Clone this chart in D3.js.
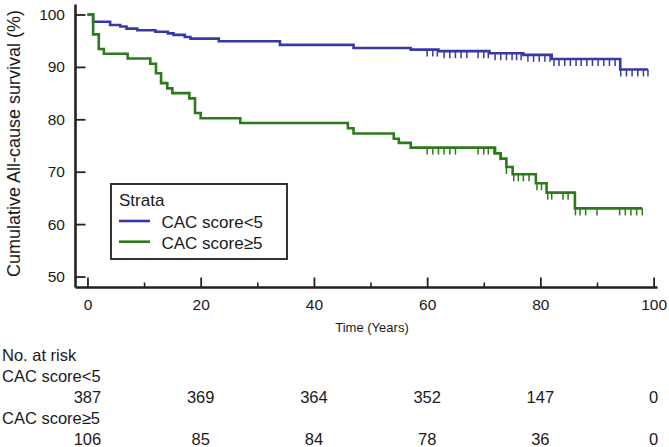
<!DOCTYPE html>
<html>
<head>
<meta charset="utf-8">
<script src="https://cdn.jsdelivr.net/npm/d3@7"></script>
<style>
  html, body { margin: 0; padding: 0; background: #ffffff; }
  svg { display: block; font-family: "Liberation Sans", Arial, sans-serif; }
</style>
</head>
<body>
<svg id="chart" width="669" height="447"></svg>
<script>
// ---------- DATA ----------
const seriesNames = ["CAC score<5", "CAC score\u22655"];

const blueTimes = [0, 1.0, 4.0, 5.8, 6.9, 8.8, 12.0, 14.2, 15.2, 17.2, 18.2, 23.2, 34.0, 47.0, 57.1, 62.0, 71.0, 77.0, 82.0, 94.1, 99.0];
const blueSurv  = [100, 98.6, 98.0, 97.7, 97.3, 97.0, 96.7, 96.4, 96.1, 95.7, 95.4, 94.9, 94.2, 93.6, 93.3, 93.0, 92.6, 92.3, 91.5, 89.5, 89.5];
const blueCensor = [60.0, 61.0, 61.8, 63.0, 64.0, 65.0, 66.0, 67.0, 69.0, 70.0, 70.8, 72.0, 73.0, 74.0, 75.0, 75.8, 76.6, 77.8, 78.8, 79.8, 80.8, 81.7, 82.4, 83.3, 84.3, 85.3, 86.3, 87.2, 88.2, 89.2, 90.2, 91.2, 92.2, 93.2, 94.2, 95.2, 96.2, 97.2, 98.2, 99.0];

const greenTimes = [0, 1.0, 2.0, 2.9, 7.1, 11.1, 12.1, 13.0, 14.1, 15.0, 18.0, 19.0, 20.0, 27.0, 46.0, 47.0, 54.1, 55.0, 57.1, 72.0, 73.0, 74.0, 75.1, 79.2, 81.1, 86.1, 98.0];
const greenSurv  = [100, 96.2, 93.4, 92.5, 91.6, 90.6, 88.8, 86.9, 85.9, 85.0, 84.0, 81.2, 80.2, 79.3, 78.3, 77.3, 76.3, 75.5, 74.6, 73.5, 72.5, 70.9, 69.5, 67.8, 66.0, 63.0, 63.0];
const greenCensor = [60.0, 61.0, 62.0, 63.0, 64.0, 65.0, 69.0, 70.0, 70.8, 71.8, 72.9, 74.0, 75.3, 76.1, 77.0, 78.0, 79.4, 80.2, 81.3, 82.0, 84.0, 84.9, 86.2, 87.0, 88.0, 90.0, 94.0, 95.0, 96.0, 97.0, 98.0];

const xTicks = [0, 20, 40, 60, 80, 100];
const xMinorTicks = [10, 30, 50, 70, 90];
const yTicks = [50, 60, 70, 80, 90, 100];

const riskTimes = [0, 20, 40, 60, 80, 100];
const riskBlue  = [387, 369, 364, 352, 147, 0];
const riskGreen = [106, 85, 84, 78, 36, 0];

// ---------- LAYOUT ----------
const colors = ["#3838a8", "#2c7a1c"];
const textColor = "#1a1a1a";
const axisColor = "#222222";

const svg = d3.select("#chart");
const x = d3.scaleLinear().domain([-2.2, 100.6]).range([75, 657]);
const y = d3.scaleLinear().domain([48, 102]).range([287, 4]);

function stepAt(times, surv, t) {
  let v = surv[0];
  for (let i = 0; i < times.length; i++) { if (times[i] <= t + 1e-9) v = surv[i]; }
  return v;
}

const series = [
  { times: blueTimes, surv: blueSurv, censor: blueCensor, color: colors[0] },
  { times: greenTimes, surv: greenSurv, censor: greenCensor, color: colors[1] }
];

const line = d3.line().x(d => x(d[0])).y(d => y(d[1])).curve(d3.curveStepAfter);

const plot = svg.append("g");
series.forEach(s => {
  const pts = s.times.map((t, i) => [t, s.surv[i]]);
  plot.append("path")
    .attr("d", line(pts))
    .attr("fill", "none")
    .attr("stroke", s.color)
    .attr("stroke-width", 2.6);
  plot.append("g").selectAll("line")
    .data(s.censor)
    .join("line")
    .attr("x1", d => x(d)).attr("x2", d => x(d))
    .attr("y1", d => y(stepAt(s.times, s.surv, d)))
    .attr("y2", d => y(stepAt(s.times, s.surv, d)) + 7)
    .attr("stroke", s.color)
    .attr("stroke-width", 1.5);
});

// ---------- AXES ----------
function styleAxis(g) {
  g.select(".domain").attr("stroke", axisColor).attr("stroke-width", 2.6);
  g.selectAll(".tick line").attr("stroke", axisColor).attr("stroke-width", 1.8);
  g.selectAll(".tick text").attr("fill", textColor).attr("font-size", 15.5)
    .attr("font-family", "'Liberation Sans', Arial, sans-serif");
}

const xAxisG = svg.append("g").attr("transform", "translate(0,287)")
  .call(d3.axisBottom(x).tickValues(xTicks).tickSizeInner(-9.5).tickSizeOuter(0).tickPadding(12).tickFormat(d3.format("d")));
styleAxis(xAxisG);

const xMinorG = svg.append("g").attr("transform", "translate(0,287)")
  .call(d3.axisBottom(x).tickValues(xMinorTicks).tickSizeInner(-4.5).tickSizeOuter(0).tickFormat(""));
xMinorG.select(".domain").remove();
xMinorG.selectAll(".tick line").attr("stroke", axisColor).attr("stroke-width", 1.6);

const yAxisG = svg.append("g").attr("transform", "translate(75,0)")
  .call(d3.axisLeft(y).tickValues(yTicks).tickSizeInner(-10.5).tickSizeOuter(0).tickPadding(10).tickFormat(d3.format("d")));
styleAxis(yAxisG);

// axis titles
svg.append("text")
  .attr("transform", "translate(19.5,143.5) rotate(-90)")
  .attr("text-anchor", "middle")
  .attr("font-size", 18)
  .attr("fill", textColor)
  .text("Cumulative All-cause survival (%)");

svg.append("text")
  .attr("x", 372).attr("y", 332)
  .attr("text-anchor", "middle")
  .attr("font-size", 13)
  .attr("fill", textColor)
  .text("Time (Years)");

// ---------- LEGEND ----------
const lg = svg.append("g");
lg.append("rect")
  .attr("x", 111).attr("y", 184).attr("width", 176).attr("height", 75)
  .attr("fill", "#ffffff").attr("stroke", "#333333").attr("stroke-width", 2);
lg.append("text").attr("x", 119).attr("y", 206).attr("font-size", 17).attr("fill", textColor).text("Strata");
seriesNames.forEach((name, i) => {
  const yy = 221 + i * 20.7;
  lg.append("line").attr("x1", 119).attr("x2", 150).attr("y1", yy).attr("y2", yy)
    .attr("stroke", colors[i]).attr("stroke-width", 2.6);
  lg.append("text").attr("x", 161.5).attr("y", yy + 7).attr("font-size", 17).attr("fill", textColor).text(name);
});

// ---------- RISK TABLE ----------
const tbl = svg.append("g").attr("font-size", 16.5).attr("fill", textColor);
tbl.append("text").attr("x", 2).attr("y", 361).text("No. at risk");
tbl.append("text").attr("x", 2).attr("y", 382).text(seriesNames[0]);
tbl.append("g").selectAll("text").data(riskBlue).join("text")
  .attr("x", (d, i) => x(riskTimes[i])).attr("y", 403).attr("text-anchor", "middle").text(d => d);
tbl.append("text").attr("x", 2).attr("y", 424).text(seriesNames[1]);
tbl.append("g").selectAll("text").data(riskGreen).join("text")
  .attr("x", (d, i) => x(riskTimes[i])).attr("y", 445).attr("text-anchor", "middle").text(d => d);
</script>
</body>
</html>
